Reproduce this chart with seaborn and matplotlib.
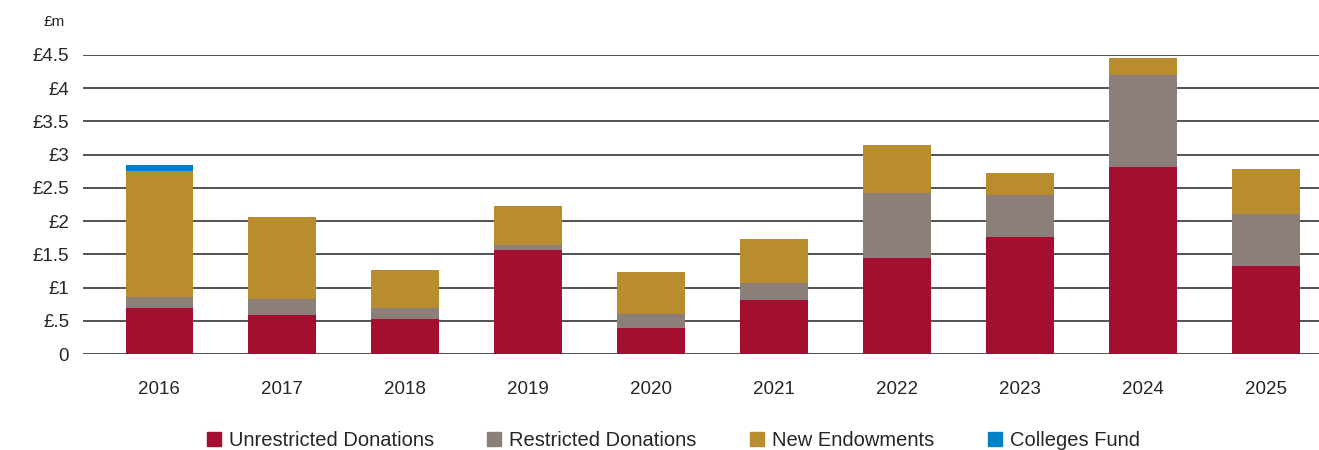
import numpy as np
import pandas as pd
import seaborn as sns
import matplotlib.pyplot as plt
from matplotlib.lines import Line2D

years = ["2016", "2017", "2018", "2019", "2020", "2021", "2022", "2023", "2024", "2025"]
unrestricted = [0.69, 0.59, 0.53, 1.56, 0.39, 0.81, 1.44, 1.76, 2.81, 1.33]
restricted = [0.17, 0.24, 0.16, 0.08, 0.21, 0.26, 0.99, 0.64, 1.39, 0.78]
endowments = [1.90, 1.23, 0.57, 0.59, 0.63, 0.66, 0.71, 0.33, 0.25, 0.67]
colleges_fund = [0.08, 0, 0, 0, 0, 0, 0, 0, 0, 0]

series_names = ["Unrestricted Donations", "Restricted Donations", "New Endowments", "Colleges Fund"]
colors = ["#A50F2F", "#8C7F79", "#B98D2E", "#0081C6"]
ytick_vals = [0, 0.5, 1, 1.5, 2, 2.5, 3, 3.5, 4, 4.5]
ytick_labels = ["0", "£.5", "£1", "£1.5", "£2", "£2.5", "£3", "£3.5", "£4", "£4.5"]

sns.set_theme(style="white")
plt.rcParams['font.family'] = ['Liberation Sans', 'DejaVu Sans']

df = pd.DataFrame({"year": years,
                   series_names[0]: unrestricted,
                   series_names[1]: restricted,
                   series_names[2]: endowments,
                   series_names[3]: colleges_fund})
cum = df[series_names].cumsum(axis=1)
cum["year"] = years

fig = plt.figure(figsize=(13.19, 4.5), dpi=100)
ax = fig.add_axes([0.063, 0.213, 0.937, 0.665])

# gridlines under the bars
for v in ytick_vals:
    ax.axhline(v, color="#222222", lw=1.1, zorder=0)

# draw cumulative totals from the top layer down so each stack shows
for name, col in zip(reversed(series_names), reversed(colors)):
    sns.barplot(data=cum, x="year", y=name, color=col, width=0.55,
                saturation=1, ax=ax, zorder=2, linewidth=0)

ax.set_xlim(-0.62, 9.43)
ax.set_ylim(0, 4.5)
ax.set_yticks(ytick_vals)
ax.set_yticklabels(ytick_labels, fontsize=13.5)
ax.tick_params(axis="x", labelsize=13.5, pad=19, length=0)
ax.tick_params(axis="y", length=0, pad=10)
ax.set_xlabel("")
ax.set_ylabel("")
for s in ax.spines.values():
    s.set_visible(False)

fig.text(0.041, 0.95, "£m", fontsize=11, ha="center", va="center")

handles = [Line2D([0], [0], marker="s", linestyle="", markersize=9.5,
                  markerfacecolor=c, markeredgecolor=c) for c in colors]
fig.legend(handles, series_names, loc="center", bbox_to_anchor=(0.51, 0.022),
           ncol=4, frameon=False, fontsize=14.5, handletextpad=0.35,
           columnspacing=2.6, handlelength=0.8)

fig.savefig("out.png", dpi=100)
